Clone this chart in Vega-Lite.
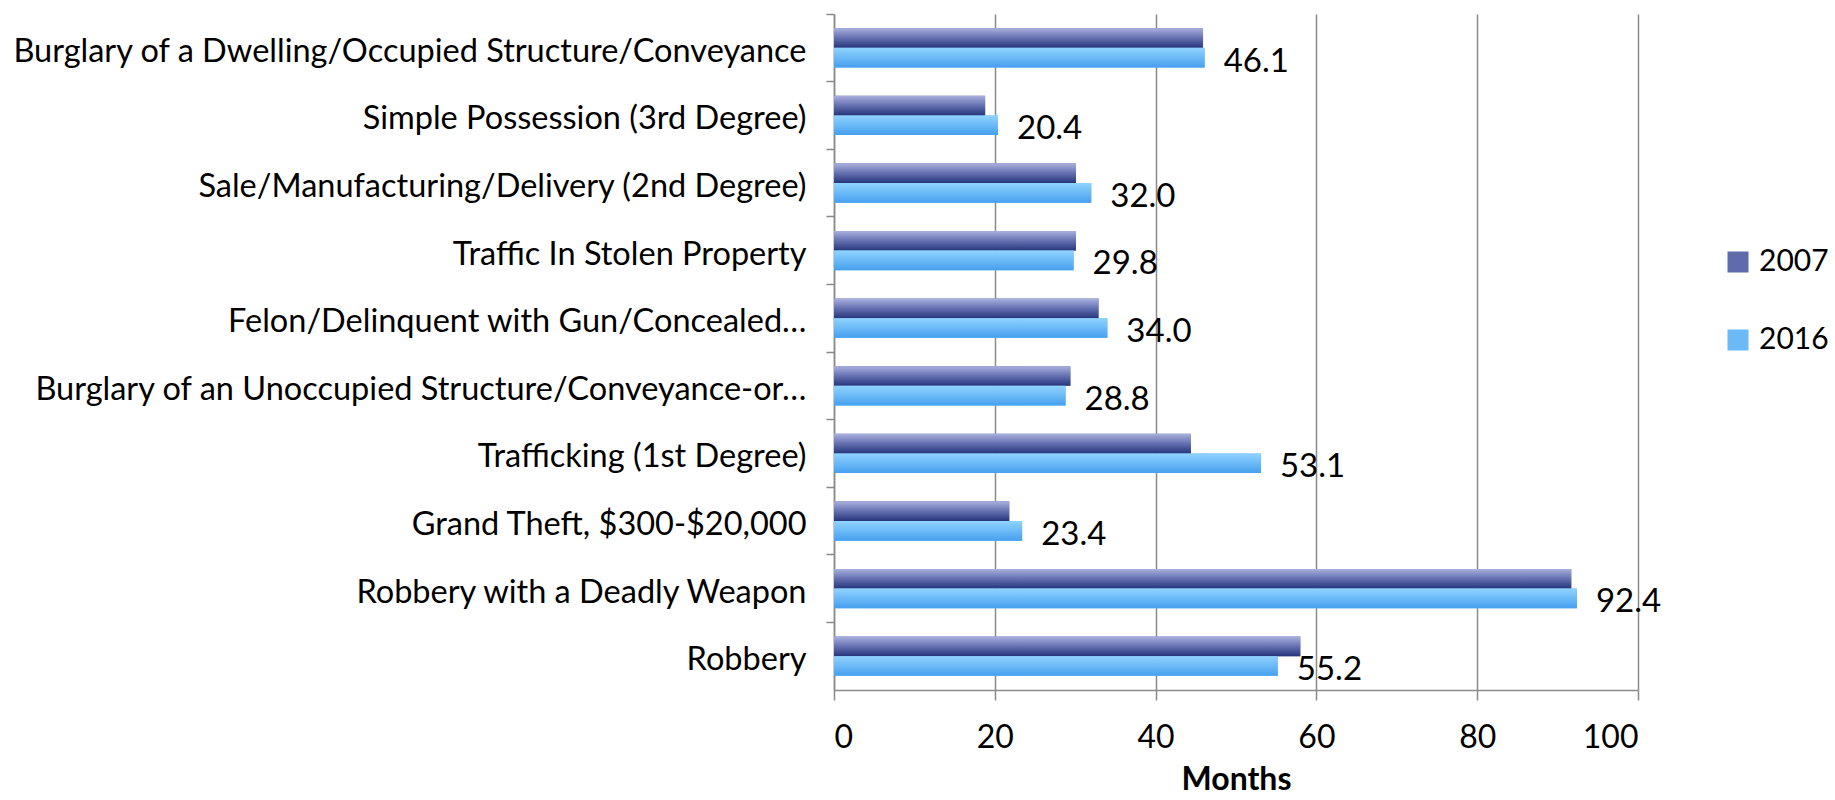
{
  "$schema": "https://vega.github.io/schema/vega-lite/v6.json",
  "autosize": "none",
  "padding": {"left": 834, "top": 14, "right": 197, "bottom": 110},
  "width": 804,
  "height": 676,
  "background": "white",
  "config": {"font": "Lato", "view": {"stroke": null}},
  "data": {
    "values": [
      {"offense": "Burglary of a Dwelling/Occupied Structure/Conveyance", "year": "2007", "months": 45.9},
      {"offense": "Burglary of a Dwelling/Occupied Structure/Conveyance", "year": "2016", "months": 46.1},
      {"offense": "Simple Possession (3rd Degree)", "year": "2007", "months": 18.8},
      {"offense": "Simple Possession (3rd Degree)", "year": "2016", "months": 20.4},
      {"offense": "Sale/Manufacturing/Delivery (2nd Degree)", "year": "2007", "months": 30.1},
      {"offense": "Sale/Manufacturing/Delivery (2nd Degree)", "year": "2016", "months": 32.0},
      {"offense": "Traffic In Stolen Property", "year": "2007", "months": 30.1},
      {"offense": "Traffic In Stolen Property", "year": "2016", "months": 29.8},
      {"offense": "Felon/Delinquent with Gun/Concealed…", "year": "2007", "months": 32.9},
      {"offense": "Felon/Delinquent with Gun/Concealed…", "year": "2016", "months": 34.0},
      {"offense": "Burglary of an Unoccupied Structure/Conveyance-or…", "year": "2007", "months": 29.4},
      {"offense": "Burglary of an Unoccupied Structure/Conveyance-or…", "year": "2016", "months": 28.8},
      {"offense": "Trafficking (1st Degree)", "year": "2007", "months": 44.4},
      {"offense": "Trafficking (1st Degree)", "year": "2016", "months": 53.1},
      {"offense": "Grand Theft, $300-$20,000", "year": "2007", "months": 21.8},
      {"offense": "Grand Theft, $300-$20,000", "year": "2016", "months": 23.4},
      {"offense": "Robbery with a Deadly Weapon", "year": "2007", "months": 91.7},
      {"offense": "Robbery with a Deadly Weapon", "year": "2016", "months": 92.4},
      {"offense": "Robbery", "year": "2007", "months": 58.0},
      {"offense": "Robbery", "year": "2016", "months": 55.2}
    ]
  },
  "encoding": {
    "y": {
      "field": "offense",
      "type": "nominal",
      "sort": null,
      "scale": {"paddingInner": 0, "paddingOuter": 0},
      "axis": {
        "title": null,
        "bandPosition": 0,
        "tickSize": 8,
        "tickColor": "#8a8a8a",
        "tickWidth": 1.5,
        "domainColor": "#8a8a8a",
        "domainWidth": 1.5,
        "labelFontSize": 32.5,
        "labelColor": "#000000",
        "labelPadding": 20,
        "labelOffset": 4,
        "labelLimit": 900,
        "grid": false
      }
    },
    "yOffset": {
      "field": "year",
      "type": "nominal",
      "scale": {"paddingInner": 0, "paddingOuter": 0.72}
    },
    "x": {
      "field": "months",
      "type": "quantitative",
      "scale": {"domain": [0, 100], "nice": false},
      "axis": {
        "values": [0, 20, 40, 60, 80, 100],
        "grid": true,
        "gridColor": "#8a8a8a",
        "gridWidth": 1.5,
        "domainColor": "#8a8a8a",
        "domainWidth": 1.5,
        "tickColor": "#8a8a8a",
        "tickWidth": 1.5,
        "tickSize": 10,
        "labelFontSize": 32,
        "labelColor": "#000000",
        "labelPadding": 22,
        "title": "Months",
        "titleFontSize": 32,
        "titleFontWeight": "bold",
        "titleColor": "#000000",
        "titlePadding": 11
      }
    }
  },
  "layer": [
    {
      "mark": {"type": "bar"},
      "encoding": {
        "color": {
          "field": "year",
          "type": "nominal",
          "scale": {"domain": ["2007", "2016"], "range": ["#5f6bab", "#6bbaf7"]},
          "legend": {
            "title": null,
            "orient": "none",
            "legendX": 889,
            "legendY": 233,
            "symbolType": "square",
            "symbolSize": 441,
            "symbolStrokeWidth": 0,
            "labelFontSize": 30,
            "labelColor": "#000000",
            "labelOffset": 6,
            "rowPadding": 48
          }
        }
      }
    },
    {
      "mark": {"type": "bar"},
      "encoding": {
        "color": {
          "condition": {
            "test": "datum.year == '2007'",
            "value": {"gradient": "linear", "x1": 0, "y1": 0, "x2": 0, "y2": 1, "stops": [{"offset": 0, "color": "#aab1de"}, {"offset": 0.5, "color": "#6470b0"}, {"offset": 1, "color": "#26367c"}]}
          },
          "value": {"gradient": "linear", "x1": 0, "y1": 0, "x2": 0, "y2": 1, "stops": [{"offset": 0, "color": "#90d3ff"}, {"offset": 1, "color": "#46a0ee"}]}
        }
      }
    },
    {
      "transform": [{"filter": "datum.year == '2016'"}],
      "mark": {"type": "text", "align": "left", "baseline": "middle", "dx": 19, "dy": 4, "fontSize": 33, "color": "#000000"},
      "encoding": {
        "text": {"field": "months", "type": "quantitative", "format": ".1f"}
      }
    }
  ]
}
